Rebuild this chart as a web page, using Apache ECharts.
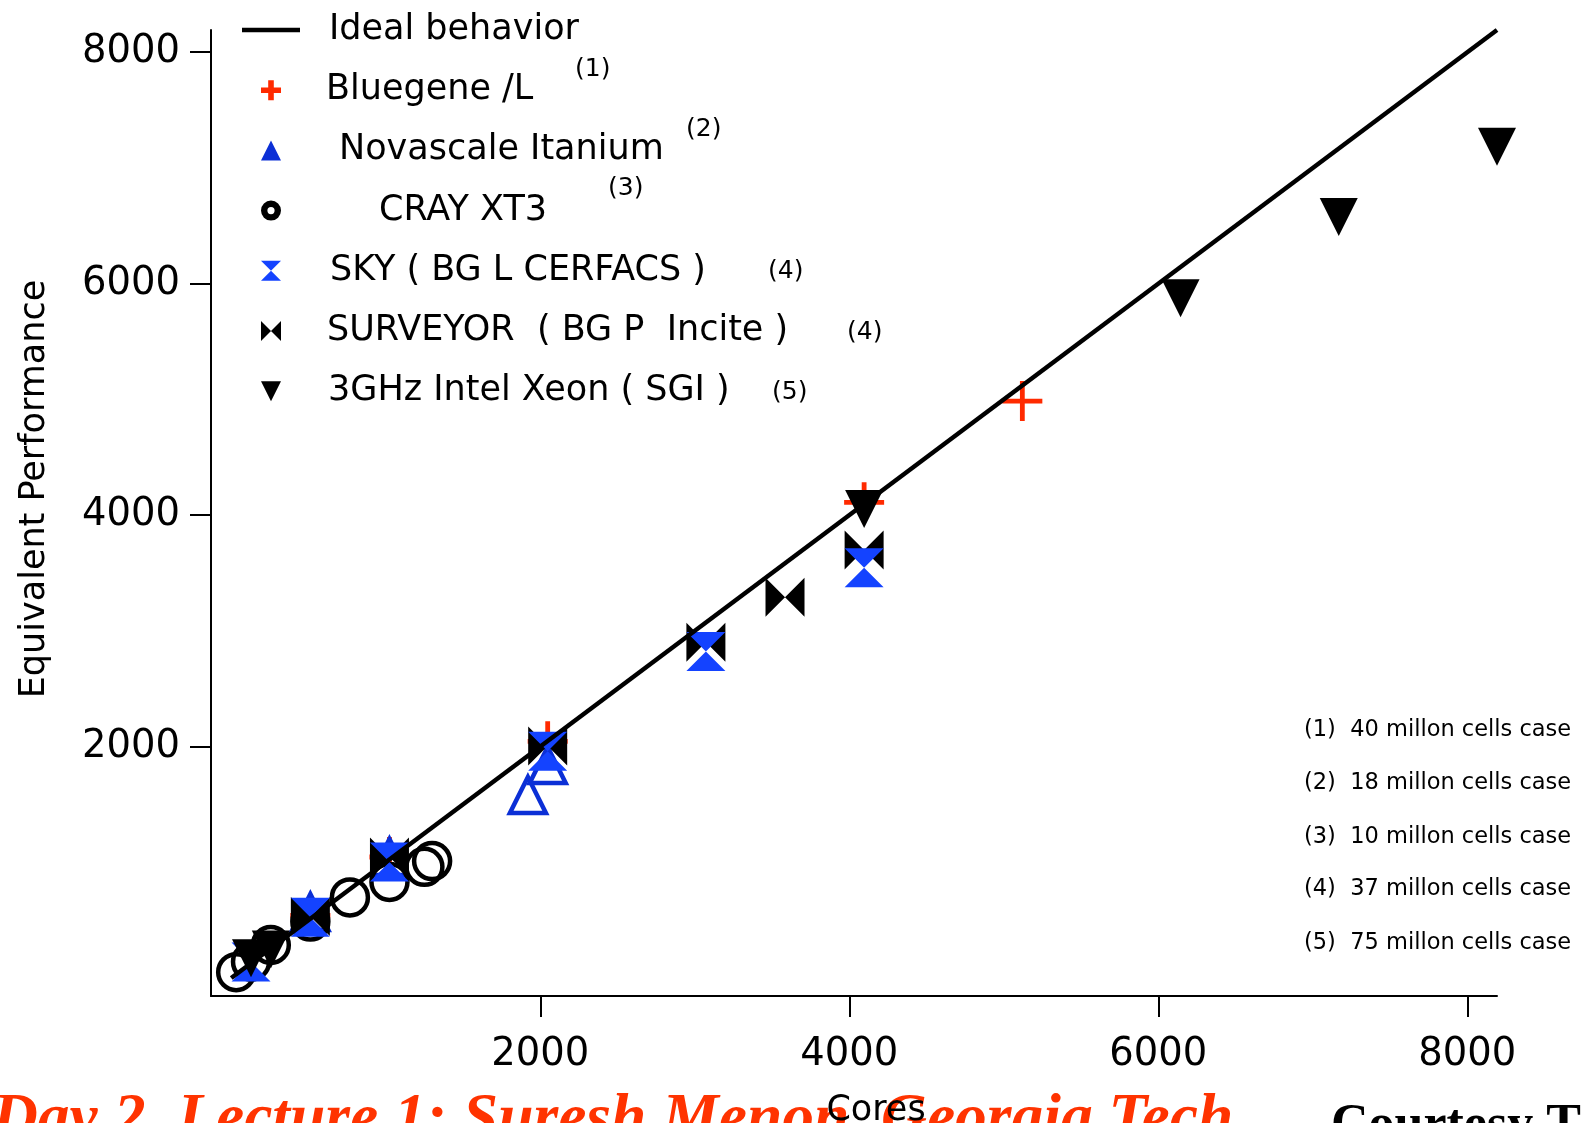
<!DOCTYPE html>
<html><head><meta charset="utf-8">
<script src="https://cdn.jsdelivr.net/npm/echarts@6/dist/echarts.min.js"></script>
<style>html,body{margin:0;padding:0;background:#fff}#c{width:1581px;height:1123px}</style>
</head><body><div id="c"></div><script>
// ---- data ----
const coreTicks = [2000, 4000, 6000, 8000];
const perfTicks = [2000, 4000, 6000, 8000];

const idealCores = [0, 8192];
const idealPerf  = [0, 8192];

const bluegeneCores = [512, 1024, 2048, 4096, 5120];
const bluegenePerf  = [540, 1045, 2045, 4110, 4985];

const novascaleCores = [512, 1024, 1920, 2048];
const novascalePerf  = [570, 1046, 1580, 1840];

const crayCores = [32, 128, 256, 512, 768, 1024, 1250, 1300];
const crayPerf  = [50, 140, 285, 487, 696, 830, 960, 1010];

const skyCores = [128, 512, 1024, 2048, 3072, 4096];
const skyPerf  = [138, 525, 1003, 1960, 2822, 3544];

const surveyorCores = [512, 1024, 2048, 3072, 3584, 4096];
const surveyorPerf  = [530, 1045, 2005, 2900, 3289, 3699];

const xeonCores = [128, 256, 4096, 6144, 7168, 8192];
const xeonPerf  = [170, 245, 4053, 5873, 6577, 7182];

const legendNames = ['Ideal behavior', 'Bluegene /L', 'Novascale Itanium', 'CRAY XT3',
  'SKY ( BG L CERFACS )', 'SURVEYOR  ( BG P  Incite )', '3GHz Intel Xeon ( SGI )'];
const refMarks = ['(1)', '(2)', '(3)', '(4)', '(4)', '(5)'];
const notes = ['(1)  40 millon cells case', '(2)  18 millon cells case', '(3)  10 millon cells case',
  '(4)  37 millon cells case', '(5)  75 millon cells case'];
const xTitle = 'Cores';
const yTitle = 'Equivalent Performance';
const footerRed = 'Day 2, Lecture 1: Suresh Menon, Georgia Tech';
const footerBlack = 'Courtesy T';

// ---- styling ----
const zip = (a, b) => a.map((v, i) => [v, b[i]]);
const FONT = '"DejaVu Sans", sans-serif';
const RED = '#ff2a00', BLUE = '#1443ff', DBLUE = '#0b2fd6';
const plus = 'path://M4.4,0H5.6V4.4H10V5.6H5.6V10H4.4V5.6H0V4.4H4.4Z';
const plusLegend = 'path://M3.6,0H6.4V3.6H10V6.4H6.4V10H3.6V6.4H0V3.6H3.6Z';
const hourglass = 'path://M0,0L10,0L0,10L10,10Z';
const bowtie = 'path://M0,0L0,10L10,0L10,10Z';
const downTri = 'path://M0,0L10,0L5,10Z';
const upTri = 'path://M5,0L10,10L0,10Z';
const ring = 'path://M10,0A10,10,0,1,1,10,20A10,10,0,1,1,10,0Z M10,6.4A3.6,3.6,0,1,0,10,13.6A3.6,3.6,0,1,0,10,6.4Z';
const lineIcon = 'path://M0,0H58V4.5H0Z';

const textOffsets = [24, 21, 34, 74, 25, 22, 23];
const rich = {};
textOffsets.forEach((o, i) => { rich['p' + i] = {padding: [0, 0, 0, o], fontSize: 35, fontFamily: FONT, color: '#000', lineHeight: 40}; });

const supPos = [[575, 69], [686, 129], [608, 188], [768, 271], [847, 332], [772, 392]];
const noteY = [730, 783, 837, 889, 943];

const graphics = [];
refMarks.forEach((t, i) => graphics.push({type: 'text', x: supPos[i][0], y: supPos[i][1],
  style: {text: t, font: '25px ' + FONT, fill: '#000', textAlign: 'left', textVerticalAlign: 'middle', align: 'left', verticalAlign: 'middle'}}));
notes.forEach((t, i) => graphics.push({type: 'text', x: 1304, y: noteY[i],
  style: {text: t, font: '22.5px ' + FONT, fill: '#000', textAlign: 'left', textVerticalAlign: 'middle', align: 'left', verticalAlign: 'middle'}}));
graphics.push({type: 'text', x: -8, y: 1121, z: -5,
  style: {text: footerRed, font: 'italic bold 63.5px "Liberation Serif", serif', fill: '#ff3300', textAlign: 'left', textVerticalAlign: 'middle', align: 'left', verticalAlign: 'middle'}});
graphics.push({type: 'text', x: 1331, y: 1127,
  style: {text: footerBlack, font: 'bold 52px "Liberation Serif", serif', fill: '#000', textAlign: 'left', textVerticalAlign: 'middle', align: 'left', verticalAlign: 'middle'}});

const scatterBase = {type: 'scatter', emphasis: {disabled: true}, animation: false};

const option = {
  animation: false,
  backgroundColor: '#fff',
  grid: {left: 211, right: 84, top: 30, bottom: 127, containLabel: false, outerBoundsMode: 'none'},
  xAxis: {
    type: 'value', min: -131, max: 8192,
    name: xTitle, nameLocation: 'middle', nameGap: 97,
    nameTextStyle: {fontSize: 35, fontFamily: FONT, color: '#000', padding: [0, 0, 0, 44]},
    axisLine: {onZero: false, lineStyle: {color: '#000', width: 2}},
    axisTick: {show: true, customValues: coreTicks, length: 21, inside: false, lineStyle: {color: '#000', width: 2}},
    axisLabel: {customValues: coreTicks, formatter: v => String(v), fontSize: 38.5, fontFamily: FONT, color: '#000', margin: 39},
    splitLine: {show: false}
  },
  yAxis: {
    type: 'value', min: -156, max: 8192,
    name: yTitle, nameLocation: 'middle', nameGap: 159, nameRotate: 90,
    nameTextStyle: {fontSize: 35, fontFamily: FONT, color: '#000', padding: [0, 0, 0, 48]},
    axisLine: {onZero: false, lineStyle: {color: '#000', width: 2}},
    axisTick: {show: true, customValues: perfTicks, length: 21, inside: false, lineStyle: {color: '#000', width: 2}},
    axisLabel: {customValues: perfTicks, formatter: v => String(v), fontSize: 38.5, fontFamily: FONT, color: '#000', margin: 31},
    splitLine: {show: false}
  },
  legend: {
    orient: 'vertical', left: 242, top: 10, padding: 0,
    itemWidth: 58, itemHeight: 20, itemGap: 20.2,
    selectedMode: false,
    formatter: name => '{p' + legendNames.indexOf(name) + '|' + name + '}',
    textStyle: {fontSize: 35, fontFamily: FONT, color: '#000', lineHeight: 40, rich: rich},
    data: [
      {name: legendNames[0], icon: lineIcon, itemStyle: {color: '#000', borderWidth: 0, opacity: 1}},
      {name: legendNames[1], icon: plusLegend, itemStyle: {color: RED, borderWidth: 0, opacity: 1}},
      {name: legendNames[2], icon: upTri, itemStyle: {color: DBLUE, borderWidth: 0, opacity: 1}},
      {name: legendNames[3], icon: ring, itemStyle: {color: '#000', borderWidth: 0, opacity: 1}},
      {name: legendNames[4], icon: hourglass, itemStyle: {color: BLUE, borderWidth: 0, opacity: 1}},
      {name: legendNames[5], icon: bowtie, itemStyle: {color: '#000', borderWidth: 0, opacity: 1}},
      {name: legendNames[6], icon: downTri, itemStyle: {color: '#000', borderWidth: 0, opacity: 1}}
    ]
  },
  graphic: graphics,
  series: [
    {type: 'line', name: legendNames[0], data: zip(idealCores, idealPerf), symbol: 'none',
      lineStyle: {color: '#000', width: 4.5}, itemStyle: {color: '#000'}, emphasis: {disabled: true}},
    Object.assign({}, scatterBase, {name: legendNames[1], data: zip(bluegeneCores, bluegenePerf),
      symbol: plus, symbolSize: 40, itemStyle: {color: RED, opacity: 1}}),
    Object.assign({}, scatterBase, {name: legendNames[2], data: zip(novascaleCores, novascalePerf),
      symbol: upTri, symbolSize: 36, itemStyle: {color: 'rgba(0,0,0,0)', borderColor: DBLUE, borderWidth: 4.5, opacity: 1}}),
    Object.assign({}, scatterBase, {name: legendNames[3], data: zip(crayCores, crayPerf),
      symbol: 'circle', symbolSize: 36, itemStyle: {color: 'rgba(0,0,0,0)', borderColor: '#000', borderWidth: 4.5, opacity: 1}}),
    Object.assign({}, scatterBase, {name: legendNames[5], data: zip(surveyorCores, surveyorPerf),
      symbol: bowtie, symbolSize: 39, itemStyle: {color: '#000', opacity: 1}}),
    Object.assign({}, scatterBase, {name: legendNames[4], data: zip(skyCores, skyPerf),
      symbol: hourglass, symbolSize: 39, itemStyle: {color: BLUE, opacity: 1}}),
    Object.assign({}, scatterBase, {name: legendNames[6], data: zip(xeonCores, xeonPerf),
      symbol: downTri, symbolSize: 38, itemStyle: {color: '#000', opacity: 1}})
  ]
};

const chart = echarts.init(document.getElementById('c'), null, {renderer: 'canvas'});
chart.setOption(option);
</script></body></html>
